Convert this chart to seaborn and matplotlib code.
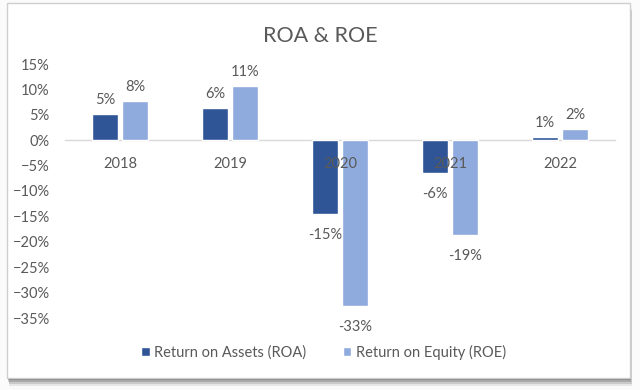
import numpy as np
import pandas as pd
import matplotlib.pyplot as plt
import matplotlib.patches as mpatches
from matplotlib.ticker import PercentFormatter
import seaborn as sns

# data (percent)
years = ["2018", "2019", "2020", "2021", "2022"]
roa = [5.2, 6.3, -14.6, -6.5, 0.6]
roe = [7.7, 10.7, -32.7, -18.7, 2.2]
series = ["Return on Assets (ROA)", "Return on Equity (ROE)"]
colors = ["#2F5597", "#8FAADC"]
text_grey = "#595959"

df = pd.DataFrame({
    "year": years * 2,
    "value": roa + roe,
    "series": [series[0]] * len(years) + [series[1]] * len(years),
})

sns.set_theme(style="white")
plt.rcParams['font.family'] = ['Lato', 'DejaVu Sans']

fig = plt.figure(figsize=(6.4, 3.9), dpi=100)
fig.patch.set_facecolor("#fbfbfb")

# card with a soft shadow, like the pasted Excel chart
W, H = 640, 390
for i, a in enumerate([0.08, 0.12, 0.16, 0.22]):
    off = 8 - i * 2
    fig.patches.append(mpatches.Rectangle(
        ((7 + off * 0.3) / W, 1 - (378 + off) / H), 623 / W, 375 / H,
        transform=fig.transFigure, facecolor="#000000", alpha=a, lw=0, zorder=0))
fig.patches.append(mpatches.Rectangle(
    (7 / W, 1 - 378 / H), 623 / W, 375 / H, transform=fig.transFigure,
    facecolor="white", edgecolor="#cfcfcf", lw=1.0, zorder=1))

ax = fig.add_axes([65 / W, 1 - 318 / H, 550 / W, 254 / H])
ax.set_zorder(2)
ax.patch.set_alpha(0)

sns.barplot(data=df, x="year", y="value", hue="series", palette=colors,
            width=0.545, gap=0.165, saturation=1, ax=ax, legend=True)

ax.set_ylim(-35, 15)
ax.set_xlim(-0.5, len(years) - 0.5)
ax.set_yticks(np.arange(-35, 16, 5))
ax.yaxis.set_major_formatter(PercentFormatter(decimals=0))
ax.set_xlabel("")
ax.set_ylabel("")
ax.set_axisbelow(False)  # category labels sit on top of the bars

for s in ["top", "right", "left"]:
    ax.spines[s].set_visible(False)
ax.spines["bottom"].set_position(("data", 0))
ax.spines["bottom"].set_color("#d9d9d9")
ax.spines["bottom"].set_linewidth(1)
ax.spines["bottom"].set_zorder(0.5)
ax.tick_params(axis="x", length=0, pad=12, labelsize=10.5, labelcolor=text_grey)
ax.tick_params(axis="y", length=0, pad=11, labelsize=10.5, labelcolor=text_grey)

# positive labels sit close above, negative ones a bit further below
for cont in ax.containers:
    vals = cont.datavalues
    ax.bar_label(cont, labels=[f"{v:.0f}%" if v >= 0 else "" for v in vals],
                 padding=5, fontsize=10.5, color=text_grey)
    ax.bar_label(cont, labels=[f"{v:.0f}%" if v < 0 else "" for v in vals],
                 padding=10, fontsize=10.5, color=text_grey)

ax.set_title("ROA & ROE", fontsize=15.5, color=text_grey, pad=16,
             x=(320 - 65) / 550)

leg = ax.legend(loc="center", bbox_to_anchor=(0.47, -0.135), ncol=2,
                frameon=False, fontsize=10.5, handlelength=0.6, handleheight=0.6,
                handletextpad=0.3, columnspacing=2.5)
for t in leg.get_texts():
    t.set_color(text_grey)

fig.savefig("out.png", dpi=100)
